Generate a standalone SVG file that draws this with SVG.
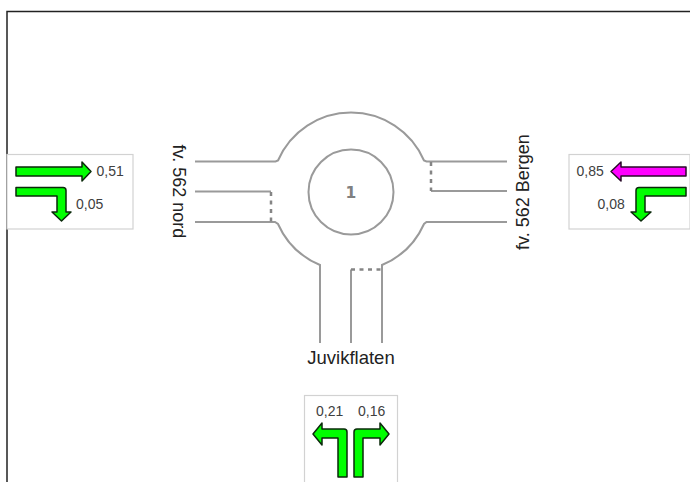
<svg xmlns="http://www.w3.org/2000/svg" width="690" height="482" viewBox="0 0 690 482">
<style>
.road{fill:none;stroke:#9a9a9a;stroke-width:2}
.dash{fill:none;stroke:#858585;stroke-width:2.500;stroke-dasharray:4 4.500}
.box{fill:#fff;stroke:#d2d2d2;stroke-width:1.200}
.g{fill:#00ff00;stroke:#0a2a0a;stroke-width:1.500;stroke-linejoin:round}
.m{fill:#ff00ff;stroke:#2a0a2a;stroke-width:1.500;stroke-linejoin:round}
.v{font-family:"Liberation Sans",Arial,sans-serif;font-size:14px;fill:#404040}
.n{font-family:"Liberation Sans",Arial,sans-serif;font-size:18px;fill:#222}
</style>
<rect width="690" height="482" fill="#fff"/>
<path d="M7 482V11.500H690" fill="none" stroke="#222" stroke-width="1.500"/>
<g id="roundabout">
<circle class="road" cx="351" cy="192" r="42.500"/>
<text x="351" y="198" text-anchor="middle" font-family="'DejaVu Sans',sans-serif" font-weight="bold" font-size="15.500" fill="#808080">1</text>
</g>
<g id="connectors">
<path class="road" d="M195 161.500H275.500L278 160.500A79.500 79.500 0 0 1 424 160.500L426.500 161.500H507"/>
<path class="road" d="M195 222H275L278 224A79.500 79.500 0 0 0 320 265V343"/>
<path class="road" d="M507 222H426.500L424 224A79.500 79.500 0 0 1 382 265V343"/>
<path class="road" d="M195 191.500H271M431 191H507M351 343V269.500"/>
<path class="dash" d="M271 192V222M431 162V191M351 269.500H382"/>
</g>
<g id="label-nord"><text class="n" transform="translate(172.500 144.500) rotate(90)">fv. 562 nord</text></g>
<g id="label-bergen"><text class="n" transform="translate(529 250) rotate(-90)">fv. 562 Bergen</text></g>
<g id="label-juvik"><text class="n" x="351" y="364" text-anchor="middle" style="font-size:18.500px">Juvikflaten</text></g>
<g id="panel-west">
<rect class="box" x="7" y="154.500" width="126" height="74.500"/>
<path class="g" d="M16 167H82V162L91 171.500L82 181V176H16Z"/>
<path class="g" d="M16 187.500H63Q66 187.500 66 190.500V212H71L61.500 221L52 212H57V196H16Z"/>
<text class="v" x="96.500" y="176">0,51</text>
<text class="v" x="76" y="209">0,05</text>
</g>
<g id="panel-east">
<rect class="box" x="569" y="154.500" width="121" height="74.500"/>
<path class="m" d="M686 167H621V162L611 171.500L621 181V176H686Z"/>
<path class="g" d="M686 187.500H639Q636 187.500 636 190.500V212H631L641 221L651 212H645V196H686Z"/>
<text class="v" x="576.500" y="176">0,85</text>
<text class="v" x="597.500" y="209">0,08</text>
</g>
<g id="panel-south">
<rect class="box" x="304.500" y="395.500" width="93" height="90"/>
<path class="g" d="M338 477V438H322V445L313 434L322 423V429H344Q347 429 347 432V477Z"/>
<path class="g" d="M363 477V438H380V445L389 434L380 423V429H357Q354 429 354 432V477Z"/>
<text class="v" x="316" y="416">0,21</text>
<text class="v" x="358" y="416">0,16</text>
</g>
</svg>
